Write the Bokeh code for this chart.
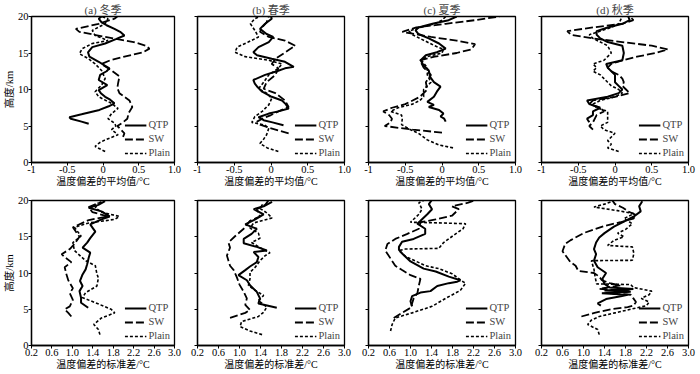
from bokeh.plotting import figure
from bokeh.layouts import column, row
from bokeh.models import Range1d, FixedTicker
from bokeh.embed import file_html
from bokeh.resources import INLINE

# ---------------- data: mean of temperature bias (top row) ----------------
# (a) winter
h_win_mean_qtp = [5.3, 5.6, 6.0, 6.2, 6.6, 7.2, 7.7, 8.1, 8.6, 9.0, 9.5, 9.9, 10.6, 11.3, 12.0, 12.5, 12.9, 13.3, 13.8, 14.5, 15.1, 15.8, 16.3, 16.9, 17.4, 17.9, 18.3, 18.8, 19.2, 19.7, 20.0]
v_win_mean_qtp = [-0.20, -0.30, -0.45, -0.47, -0.30, -0.05, 0.08, 0.16, 0.10, 0.03, -0.03, -0.06, 0.06, -0.06, -0.04, 0.05, 0.09, 0.02, -0.06, -0.19, -0.21, -0.15, 0.03, 0.18, 0.30, 0.24, 0.16, 0.05, -0.02, -0.06, -0.02]
h_win_mean_sw = [3.5, 4.0, 4.5, 5.0, 5.5, 6.0, 6.8, 7.6, 8.5, 9.5, 10.2, 10.8, 11.8, 12.6, 13.5, 14.0, 14.5, 15.1, 15.6, 16.0, 16.5, 17.2, 17.9, 18.3, 19.0, 19.7, 20.0]
v_win_mean_sw = [0.28, 0.30, 0.25, 0.20, 0.28, 0.34, 0.36, 0.41, 0.37, 0.23, 0.20, 0.21, 0.23, 0.12, -0.02, 0.10, 0.30, 0.56, 0.65, 0.60, 0.43, 0.03, -0.33, -0.38, -0.06, 0.16, 0.20]
h_win_mean_plain = [1.5, 2.2, 2.7, 3.1, 3.8, 4.5, 5.0, 5.4, 6.0, 6.7, 7.4, 8.1, 9.0, 9.7, 10.6, 11.5, 12.6, 13.5, 14.2, 14.9, 15.6, 16.3, 16.7, 17.4, 18.1, 19.0, 19.7, 20.0]
v_win_mean_plain = [0.03, -0.11, -0.05, 0.03, 0.21, 0.12, 0.18, 0.16, 0.07, 0.12, 0.21, 0.12, -0.06, -0.11, -0.02, 0.03, -0.02, -0.11, -0.20, -0.33, -0.29, -0.15, 0.07, -0.11, -0.15, 0.03, 0.07, -0.02]
# (b) spring
h_spr_mean_qtp = [5.1, 5.5, 5.8, 6.2, 6.7, 7.0, 7.4, 8.0, 8.5, 9.0, 9.7, 10.3, 10.8, 11.3, 12.0, 12.5, 12.9, 13.1, 13.8, 14.2, 14.7, 15.1, 15.8, 16.5, 17.2, 17.6, 18.3, 19.0, 19.7, 20.0]
v_spr_mean_qtp = [0.17, 0.02, -0.10, -0.17, -0.03, 0.10, 0.24, 0.20, 0.15, 0.01, -0.12, -0.18, -0.22, -0.24, -0.08, 0.08, 0.19, 0.31, 0.19, 0.01, -0.19, -0.24, -0.17, -0.03, 0.03, -0.06, -0.15, -0.08, 0.01, 0.00]
h_spr_mean_sw = [4.0, 4.7, 5.2, 5.6, 6.0, 6.5, 7.0, 7.6, 8.5, 9.5, 10.1, 11.0, 12.0, 12.9, 13.5, 14.2, 15.0, 15.4, 16.0, 16.7, 17.2, 17.9, 18.5, 19.2, 20.0]
v_spr_mean_sw = [0.24, -0.01, -0.15, -0.19, -0.12, 0.00, 0.10, 0.24, 0.19, 0.06, -0.10, -0.06, 0.06, 0.10, 0.01, 0.06, 0.18, 0.24, 0.33, 0.19, -0.03, -0.15, -0.12, -0.06, -0.03]
h_spr_mean_plain = [1.5, 2.0, 2.6, 3.2, 3.8, 4.7, 5.1, 5.5, 6.3, 7.0, 7.9, 8.8, 9.5, 10.1, 11.0, 12.0, 12.9, 13.5, 14.0, 14.5, 15.1, 15.8, 16.5, 17.2, 18.1, 19.0, 19.7, 20.0]
v_spr_mean_plain = [0.10, -0.05, -0.15, -0.10, -0.06, -0.03, -0.08, -0.26, -0.22, -0.12, -0.03, 0.01, -0.06, -0.17, -0.10, -0.03, 0.10, 0.15, -0.03, -0.35, -0.49, -0.46, -0.31, -0.17, -0.22, -0.28, -0.22, -0.15]
# (c) summer
h_sum_mean_qtp = [5.6, 6.0, 6.3, 6.7, 7.2, 7.6, 7.9, 8.3, 9.0, 9.7, 10.4, 11.0, 11.7, 12.6, 13.3, 14.0, 14.7, 15.1, 15.6, 16.3, 17.0, 17.6, 18.1, 18.5, 19.0, 19.5, 20.0]
v_sum_mean_qtp = [0.05, 0.03, -0.02, 0.02, -0.04, -0.18, -0.11, -0.20, -0.11, -0.07, -0.02, -0.11, -0.16, -0.18, -0.25, -0.29, -0.22, -0.07, 0.05, -0.04, -0.18, -0.32, -0.36, -0.32, -0.13, 0.09, 0.20]
h_sum_mean_sw = [4.1, 4.5, 5.0, 5.5, 6.0, 6.5, 7.0, 7.5, 8.0, 9.0, 10.0, 11.0, 12.0, 13.0, 14.0, 14.5, 15.0, 15.5, 16.2, 16.7, 17.2, 17.9, 18.5, 19.0, 19.5, 20.0]
v_sum_mean_sw = [0.00, -0.40, -0.78, -0.70, -0.68, -0.72, -0.80, -0.68, -0.50, -0.30, -0.20, -0.22, -0.15, -0.25, -0.30, -0.10, 0.20, 0.40, 0.45, 0.20, -0.15, -0.54, -0.35, 0.05, 0.45, 0.78]
h_sum_mean_plain = [2.0, 2.4, 3.1, 4.0, 4.6, 5.2, 6.0, 6.5, 7.0, 7.5, 8.0, 8.5, 9.0, 10.0, 11.0, 12.0, 13.0, 14.0, 14.5, 15.0, 15.5, 16.0, 16.5, 17.0, 17.5, 18.0, 18.5, 19.0, 19.5, 20.0]
v_sum_mean_plain = [0.15, -0.04, -0.20, -0.32, -0.45, -0.55, -0.54, -0.55, -0.70, -0.60, -0.40, -0.30, -0.25, -0.25, -0.15, -0.20, -0.20, -0.28, -0.20, 0.00, 0.02, -0.10, -0.20, -0.30, -0.40, -0.45, -0.30, -0.10, 0.00, 0.05]
# (d) autumn
h_aut_mean_qtp = [5.5, 6.0, 6.5, 7.0, 7.5, 8.0, 8.5, 9.0, 9.5, 10.0, 10.5, 11.0, 12.0, 12.5, 13.0, 13.5, 14.0, 15.0, 16.0, 16.5, 17.0, 17.5, 18.0, 18.5, 19.0, 19.5, 20.0]
v_aut_mean_qtp = [-0.35, -0.38, -0.30, -0.30, -0.20, -0.35, -0.38, -0.10, 0.05, 0.10, 0.05, 0.00, 0.00, -0.05, -0.10, -0.12, 0.10, 0.12, 0.10, -0.10, -0.20, -0.25, -0.25, -0.10, 0.10, 0.20, 0.18]
h_aut_mean_sw = [4.5, 5.0, 5.5, 6.5, 7.0, 7.5, 8.0, 8.5, 9.0, 9.5, 10.0, 10.5, 11.0, 11.5, 12.0, 12.5, 13.0, 13.5, 14.0, 14.5, 15.0, 15.5, 16.0, 16.5, 17.0, 17.5, 18.0, 18.5, 19.0, 19.5, 20.0]
v_aut_mean_sw = [-0.30, -0.35, -0.30, -0.25, -0.15, -0.20, -0.35, -0.30, 0.00, 0.20, 0.15, 0.10, 0.12, 0.10, 0.05, -0.05, -0.10, -0.05, 0.10, 0.30, 0.55, 0.72, 0.50, 0.10, -0.30, -0.60, -0.65, -0.30, 0.10, 0.25, 0.20]
h_aut_mean_plain = [1.5, 2.0, 2.5, 3.0, 3.5, 4.0, 4.5, 5.0, 5.5, 6.0, 7.0, 7.5, 8.0, 8.5, 9.0, 9.5, 10.0, 10.5, 11.0, 12.0, 12.5, 13.0, 13.5, 14.0, 14.5, 15.0, 16.0, 16.5, 17.0, 17.5, 18.0, 18.5, 19.0, 20.0]
v_aut_mean_plain = [0.05, -0.10, -0.05, -0.10, -0.05, 0.00, -0.15, -0.20, -0.10, -0.10, -0.10, -0.25, -0.30, -0.20, 0.00, 0.10, 0.05, -0.05, -0.10, -0.20, -0.30, -0.25, -0.30, -0.15, -0.10, -0.05, -0.10, -0.20, -0.30, -0.35, -0.20, -0.05, 0.05, 0.10]

# ---------------- data: standard deviation of temperature bias (bottom row) ----------------
h_win_std_qtp = [5.2, 5.9, 6.6, 7.5, 8.2, 8.9, 9.8, 10.5, 11.2, 12.1, 12.8, 13.5, 14.2, 14.8, 15.7, 16.2, 16.7, 17.4, 17.8, 18.5, 19.0, 19.4, 19.9]
v_win_std_qtp = [1.31, 1.17, 1.17, 1.14, 1.20, 1.15, 1.20, 1.26, 1.29, 1.32, 1.35, 1.20, 1.29, 1.35, 1.45, 1.40, 1.35, 1.57, 1.73, 1.57, 1.32, 1.51, 1.64]
h_win_std_sw = [4.0, 4.5, 5.0, 5.4, 6.3, 7.2, 7.9, 9.0, 9.9, 10.8, 11.5, 12.2, 12.6, 13.3, 14.0, 15.0, 15.6, 16.3, 17.3, 17.8, 18.4, 19.1, 19.8]
v_win_std_sw = [0.98, 0.92, 0.85, 0.95, 1.01, 0.95, 1.01, 0.92, 0.88, 0.85, 0.98, 0.85, 0.79, 0.95, 1.04, 1.14, 1.08, 1.01, 1.32, 1.70, 1.39, 1.32, 1.57]
h_win_std_plain = [1.5, 2.2, 2.9, 3.8, 4.5, 5.0, 5.9, 6.6, 7.3, 8.2, 9.3, 9.9, 11.0, 11.7, 13.1, 14.2, 15.1, 16.3, 16.9, 17.4, 17.8, 18.4, 19.0, 19.7]
v_win_std_plain = [1.54, 1.51, 1.42, 1.57, 1.83, 1.76, 1.45, 1.20, 1.26, 1.48, 1.51, 1.48, 1.45, 1.26, 1.04, 1.01, 1.17, 1.04, 1.32, 1.83, 1.92, 1.57, 1.45, 1.51]
h_spr_std_qtp = [5.2, 5.8, 6.5, 7.4, 8.3, 9.0, 9.7, 10.4, 10.9, 11.5, 12.2, 12.9, 13.1, 13.6, 14.1, 14.7, 15.4, 16.1, 16.7, 17.4, 18.1, 18.8, 19.2, 19.8]
v_spr_std_qtp = [1.71, 1.36, 1.39, 1.33, 1.20, 1.14, 0.98, 1.11, 1.20, 1.33, 1.36, 1.27, 1.52, 1.33, 1.08, 1.08, 1.23, 1.33, 1.11, 1.30, 1.46, 1.27, 1.46, 1.62]
h_spr_std_sw = [3.8, 4.5, 4.9, 5.6, 6.5, 7.4, 8.4, 9.4, 10.4, 11.0, 11.7, 12.4, 13.5, 14.2, 15.1, 16.1, 17.2, 17.8, 18.8, 19.4, 20.0]
v_spr_std_sw = [0.82, 1.11, 1.20, 1.11, 1.14, 1.08, 1.00, 0.95, 0.89, 0.82, 0.79, 0.76, 0.82, 0.79, 0.92, 1.08, 1.20, 1.39, 1.33, 1.49, 1.55]
h_spr_std_plain = [1.5, 2.0, 2.6, 3.3, 4.0, 4.6, 5.3, 6.2, 6.9, 7.6, 8.3, 9.2, 10.1, 10.8, 11.7, 12.4, 12.8, 13.5, 14.2, 14.8, 15.5, 16.2, 16.9, 17.6, 18.3, 18.9, 19.6]
v_spr_std_plain = [1.43, 1.20, 1.01, 1.04, 1.36, 1.46, 1.52, 1.36, 1.46, 1.30, 1.17, 1.20, 1.20, 1.30, 1.39, 1.49, 1.58, 1.39, 1.23, 1.39, 1.36, 1.20, 1.27, 1.62, 1.52, 1.39, 1.45]
h_sum_std_qtp = [5.4, 6.1, 6.8, 7.3, 7.5, 8.2, 8.6, 8.8, 9.0, 9.5, 10.2, 10.6, 11.6, 12.7, 13.2, 13.6, 14.3, 14.7, 15.4, 16.1, 16.8, 17.2, 18.1, 18.8, 19.5, 20.0]
v_sum_std_qtp = [1.03, 1.00, 1.03, 1.19, 1.38, 1.51, 1.73, 1.89, 1.95, 1.73, 1.48, 1.25, 1.00, 0.84, 0.78, 0.78, 0.84, 1.06, 1.28, 1.28, 1.13, 1.19, 1.32, 1.41, 1.35, 1.40]
h_sum_std_sw = [3.8, 4.5, 5.2, 5.8, 6.5, 7.2, 8.3, 9.2, 9.7, 10.4, 11.0, 12.0, 13.1, 14.0, 14.7, 15.4, 16.1, 17.0, 17.4, 17.9, 18.8, 19.2, 19.7, 20.0]
v_sum_std_sw = [0.68, 0.84, 1.00, 1.03, 1.06, 1.13, 1.16, 1.19, 1.00, 0.84, 0.71, 0.62, 0.52, 0.56, 0.71, 0.94, 1.16, 1.19, 1.48, 1.79, 1.92, 1.79, 2.10, 2.21]
h_sum_std_plain = [2.0, 2.9, 3.8, 4.5, 5.4, 6.5, 7.6, 8.6, 8.8, 9.9, 10.6, 11.0, 12.3, 13.1, 13.3, 13.4, 14.2, 15.4, 16.1, 16.8, 16.9, 17.0, 18.1, 18.8, 19.7, 20.0]
v_sum_std_plain = [0.62, 0.65, 0.71, 1.03, 1.41, 1.67, 1.95, 2.05, 2.00, 1.79, 1.54, 1.29, 0.90, 0.78, 0.90, 1.54, 1.63, 1.86, 2.00, 2.05, 1.60, 1.00, 1.16, 1.22, 1.16, 1.25]
h_aut_std_qtp = [5.5, 5.8, 6.4, 6.8, 7.0, 7.2, 7.4, 7.6, 7.8, 8.0, 8.5, 9.2, 10.0, 10.8, 11.7, 12.6, 13.3, 14.2, 14.9, 15.5, 16.4, 17.1, 17.8, 18.5, 19.2, 19.9]
v_aut_std_qtp = [1.33, 1.27, 1.43, 1.71, 1.84, 1.35, 1.90, 1.40, 1.95, 1.50, 1.40, 1.36, 1.43, 1.27, 1.20, 1.24, 1.20, 1.24, 1.30, 1.40, 1.58, 1.77, 1.96, 2.09, 2.06, 2.12]
h_aut_std_sw = [4.0, 4.5, 5.0, 5.3, 5.5, 6.0, 6.5, 7.0, 7.2, 7.5, 7.8, 8.3, 8.6, 9.0, 9.5, 10.0, 10.3, 11.0, 11.5, 12.5, 13.0, 14.0, 14.5, 15.5, 16.0, 16.5, 17.0, 17.5, 18.0, 18.5, 19.0, 19.5, 20.0]
v_aut_std_sw = [0.96, 1.21, 1.52, 1.84, 1.95, 2.00, 1.95, 1.90, 1.50, 1.90, 1.30, 1.70, 1.50, 1.35, 1.30, 1.20, 0.90, 0.85, 0.75, 0.65, 0.60, 0.65, 0.75, 1.00, 1.20, 1.40, 1.70, 1.95, 2.00, 1.85, 1.75, 1.60, 1.55]
h_aut_std_plain = [1.5, 2.2, 2.9, 3.5, 4.0, 4.5, 5.0, 5.5, 6.0, 6.5, 7.0, 7.5, 8.0, 8.4, 8.5, 9.5, 10.5, 11.7, 11.75, 12.7, 13.6, 13.8, 14.5, 15.0, 15.5, 16.0, 16.8, 17.5, 18.2, 18.6, 19.1, 19.5, 19.9]
v_aut_std_plain = [1.30, 1.27, 1.08, 1.15, 1.30, 1.60, 1.90, 2.20, 2.25, 2.10, 2.25, 2.30, 1.95, 1.90, 1.25, 1.22, 1.20, 1.15, 1.93, 1.96, 1.93, 1.46, 1.58, 1.77, 1.65, 1.80, 1.93, 1.77, 1.96, 1.65, 1.20, 1.40, 1.55]

season_titles = ["(a) 冬季", "(b) 春季", "(c) 夏季", "(d) 秋季"]
series_names = ["QTP", "SW", "Plain"]
mean_ticks = [-1, -0.5, 0, 0.5, 1]
mean_tick_labels = ["-1", "-0.5", "0", "0.5", "1.0"]
std_ticks = [0.2, 0.6, 1.0, 1.4, 1.8, 2.2, 2.6, 3.0]
std_tick_labels = ["0.2", "0.6", "1.0", "1.4", "1.8", "2.2", "2.6", "3.0"]
height_ticks = [0, 5, 10, 15, 20]
height_tick_labels = ["0", "5", "10", "15", "20"]
mean_title = "温度偏差的平均值/°C"
std_title = "温度偏差的标准差/°C"
height_title = "高度/km"

mean_data = [
    [(h_win_mean_qtp, v_win_mean_qtp), (h_win_mean_sw, v_win_mean_sw), (h_win_mean_plain, v_win_mean_plain)],
    [(h_spr_mean_qtp, v_spr_mean_qtp), (h_spr_mean_sw, v_spr_mean_sw), (h_spr_mean_plain, v_spr_mean_plain)],
    [(h_sum_mean_qtp, v_sum_mean_qtp), (h_sum_mean_sw, v_sum_mean_sw), (h_sum_mean_plain, v_sum_mean_plain)],
    [(h_aut_mean_qtp, v_aut_mean_qtp), (h_aut_mean_sw, v_aut_mean_sw), (h_aut_mean_plain, v_aut_mean_plain)],
]
std_data = [
    [(h_win_std_qtp, v_win_std_qtp), (h_win_std_sw, v_win_std_sw), (h_win_std_plain, v_win_std_plain)],
    [(h_spr_std_qtp, v_spr_std_qtp), (h_spr_std_sw, v_spr_std_sw), (h_spr_std_plain, v_spr_std_plain)],
    [(h_sum_std_qtp, v_sum_std_qtp), (h_sum_std_sw, v_sum_std_sw), (h_sum_std_plain, v_sum_std_plain)],
    [(h_aut_std_qtp, v_aut_std_qtp), (h_aut_std_sw, v_aut_std_sw), (h_aut_std_plain, v_aut_std_plain)],
]

FONT = "Liberation Serif, Noto Sans CJK SC"
STYLES = [dict(line_width=2.0, line_dash="solid"),
          dict(line_width=1.8, line_dash="8 3"),
          dict(line_width=1.6, line_dash="3 2")]

FRAME_W = 147
BORDERS_LR = [(27, 8), (15, 8), (16, 8), (18, 8)]


def make_panel(col, data, xr, ticks, labels, xtitle, top_row):
    bl, br = BORDERS_LR[col]
    if top_row:
        bt, fh, bb = 16, 146, 31
    else:
        bt, fh, bb = 7, 145, 29
    p = figure(width=bl + FRAME_W + br, height=bt + fh + bb,
               x_range=Range1d(*xr), y_range=Range1d(0, 20),
               output_backend="svg", toolbar_location=None,
               min_border_left=bl, min_border_right=br,
               min_border_top=bt, min_border_bottom=bb,
               title=season_titles[col] if top_row else None)
    p.background_fill_color = "white"
    p.border_fill_color = "white"
    p.outline_line_color = "black"
    p.outline_line_width = 1.3
    p.outline_line_alpha = 1
    p.xgrid.visible = False
    p.ygrid.visible = False
    if top_row:
        p.title.align = "center"
        p.title.text_font = FONT
        p.title.text_font_size = "11px"
        p.title.text_font_style = "normal"
        p.title.standoff = 1
        p.title.offset = 0
    for (h, v), name, st in zip(data, series_names, STYLES):
        p.line(v, h, color="black", legend_label=name, **st)
    p.xaxis.ticker = FixedTicker(ticks=ticks)
    p.xaxis.major_label_overrides = {t: l for t, l in zip(ticks, labels)}
    p.xaxis.axis_label = xtitle
    p.yaxis.ticker = FixedTicker(ticks=height_ticks)
    for ax in [p.xaxis[0], p.yaxis[0]]:
        ax.axis_line_color = "black"
        ax.axis_line_width = 1.3
        ax.major_tick_line_color = "black"
        ax.major_tick_in = 0
        ax.major_tick_out = 3
        ax.minor_tick_line_color = None
        ax.major_label_standoff = 0
        ax.axis_label_standoff = 0
        ax.major_label_text_font = FONT
        ax.major_label_text_font_size = "10.5px"
        ax.major_label_text_color = "black"
        ax.axis_label_text_font = FONT
        ax.axis_label_text_font_size = "10px"
        ax.axis_label_text_font_style = "normal"
        ax.axis_label_text_color = "black"
    if col == 0:
        p.yaxis.major_label_overrides = {t: l for t, l in zip(height_ticks, height_tick_labels)}
        p.yaxis.axis_label = height_title
        p.yaxis.axis_label_text_font_size = "10.5px"
    else:
        p.yaxis.major_label_overrides = {t: "" for t in height_ticks}
    lg = p.legend[0]
    lg.location = "bottom_right"
    lg.border_line_color = None
    lg.background_fill_alpha = 0
    lg.label_text_font = FONT
    lg.label_text_font_size = "10.5px"
    lg.glyph_width = 22
    lg.glyph_height = 10
    lg.label_height = 10
    lg.spacing = 3
    lg.padding = 2
    lg.margin = 4
    lg.label_standoff = 2
    return p


top = [make_panel(i, mean_data[i], (-1, 1), mean_ticks, mean_tick_labels, mean_title, True) for i in range(4)]
bottom = [make_panel(i, std_data[i], (0.2, 3.0), std_ticks, std_tick_labels, std_title, False) for i in range(4)]

layout = column(row(*top), row(*bottom))
open("out.html", "w").write(file_html(layout, INLINE))
